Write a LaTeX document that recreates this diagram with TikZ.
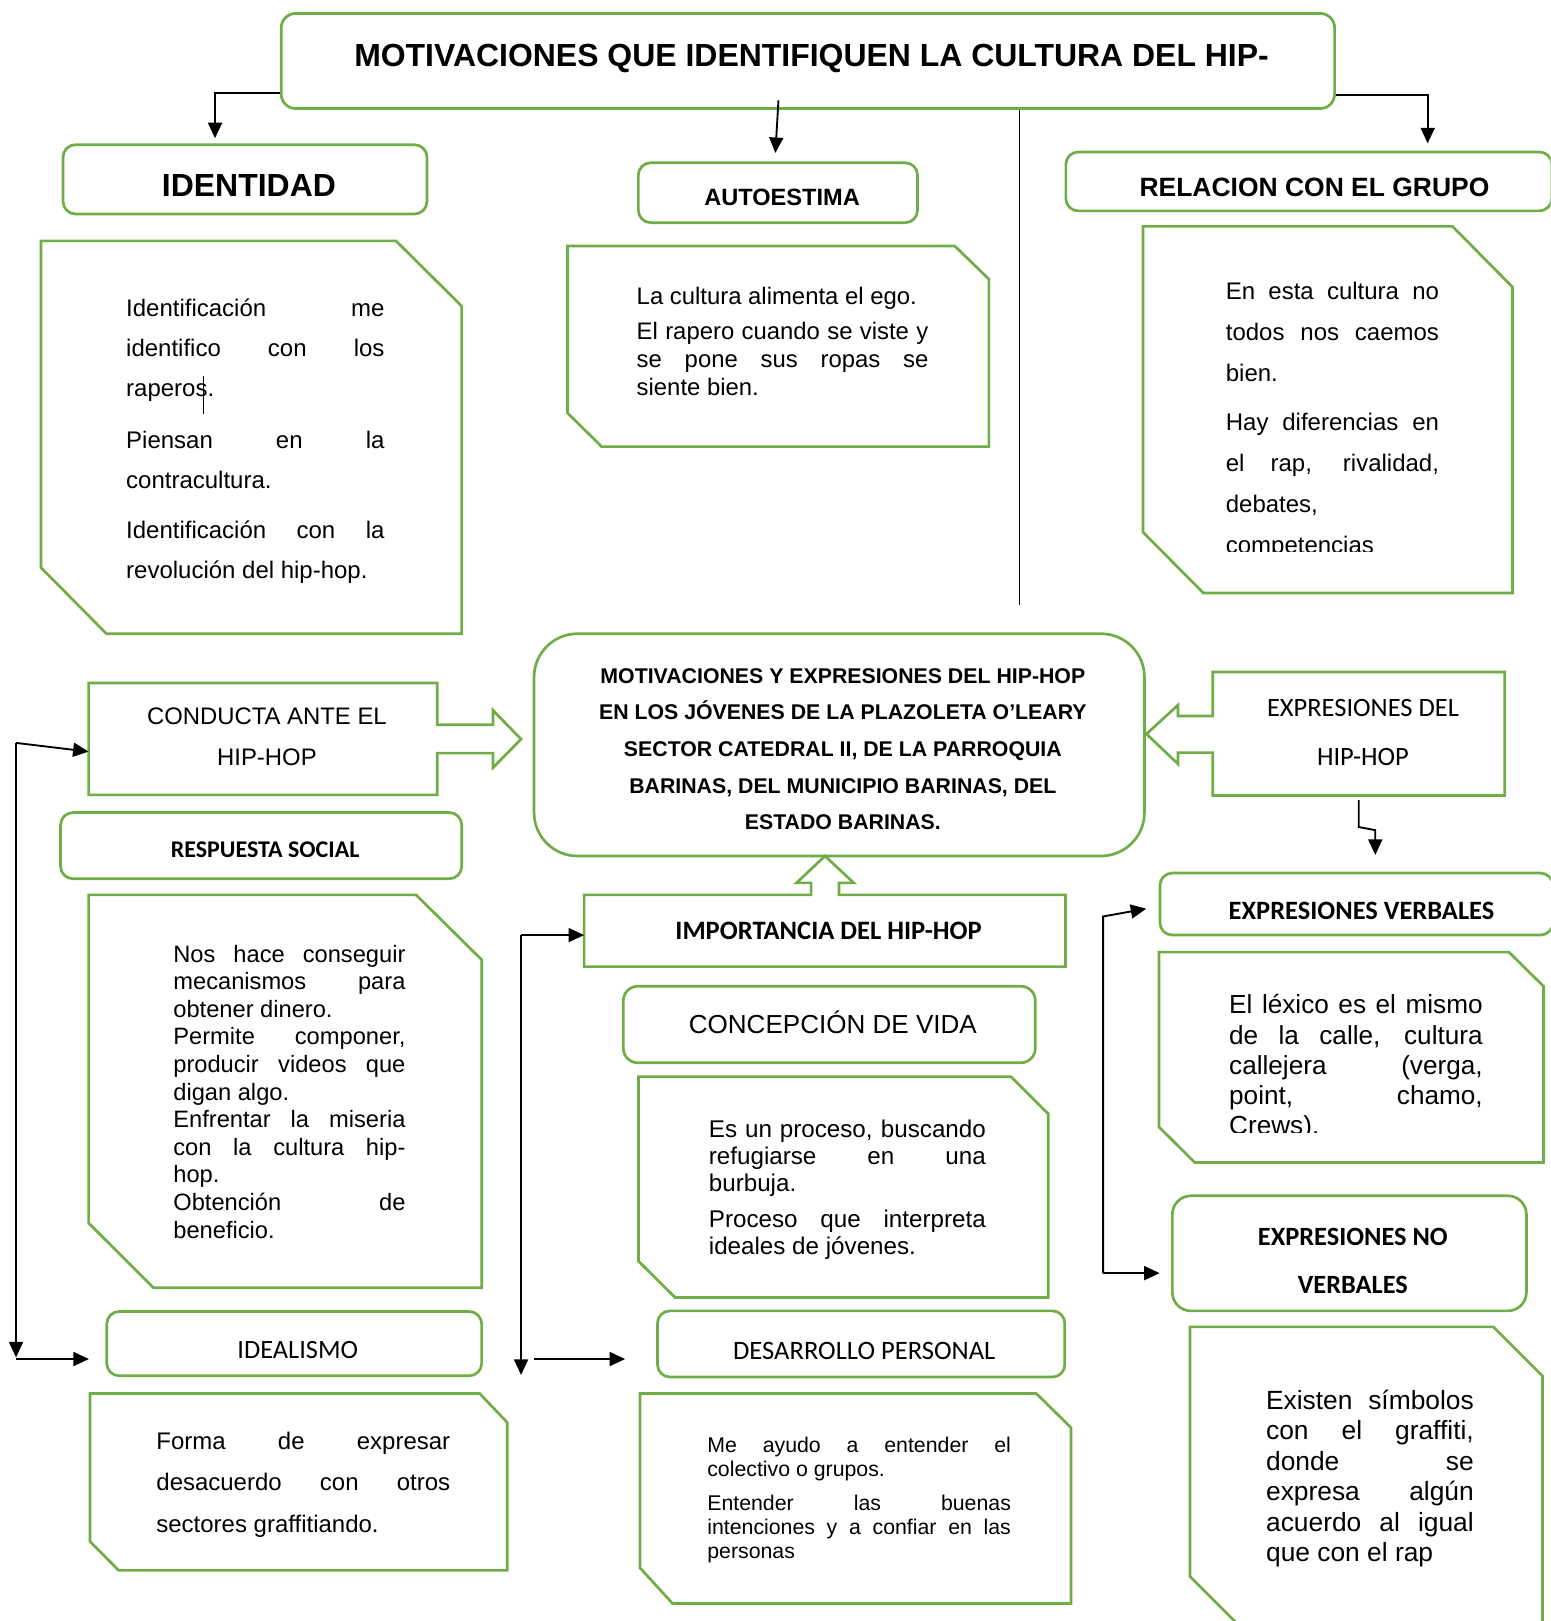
\documentclass[tikz,border=0pt]{standalone}
\usepackage{fontspec}
\setmainfont{Liberation Sans}[Ligatures=NoCommon]
\newfontfamily\calibri{Carlito}
\usetikzlibrary{arrows.meta}
\definecolor{grn}{RGB}{112,173,71}
\newcommand\mylines[2]{\vtop{\baselineskip=#1pt\lineskiplimit=-1000pt\lineskip=0pt\relax #2}}
\newcommand\jst[2]{\hbox to #1pt{#2}}
\newcommand\ctrl[2]{\hbox to #1pt{\hss #2\hss}}
\newcommand\fs[1]{\fontsize{#1}{#1}\selectfont}
\tikzset{
  lbox/.style={draw=grn, line width=2.6pt, rounded corners=12pt, inner sep=0pt},
  shp/.style={draw=grn, line width=2.6pt, line join=miter},
  holder/.style={inner sep=0pt, outer sep=0pt},
  conn/.style={draw=black, line width=1.8pt, -{Triangle[length=15pt,width=13.5pt]}},
  plain/.style={draw=black, line width=1.8pt},
  txt/.style={inner sep=0pt, anchor=base west},
  ctxt/.style={inner sep=0pt, anchor=base},
}
\begin{document}
\begin{tikzpicture}[x=1pt,y=-1pt]
\useasboundingbox (0,0) rectangle (1500,1568);
\fill[white] (0,0) rectangle (1500,1568);
\clip (0,0) rectangle (1500,1568);

% ---------- top level ----------
\node[lbox, rounded corners=14pt, minimum width=1019pt, minimum height=92pt] (title) at (781.5,59) {};
\node[ctxt, font=\bfseries\fs{30.9}] (titletxt) at (785,64.5) {MOTIVACIONES QUE IDENTIFIQUEN LA CULTURA DEL HIP-};

\node[lbox, minimum width=352pt, minimum height=67pt] (identidad) at (237,173.5) {};
\node[ctxt, font=\bfseries\fs{30.9}] (identidadtxt) at (240.8,190.2) {IDENTIDAD};

\node[lbox, minimum width=270pt, minimum height=58pt] (autoestima) at (752.5,186.4) {};
\node[ctxt, font=\bfseries\fs{22.8}] (autotxt) at (756.5,198.3) {AUTOESTIMA};

\node[lbox, minimum width=470pt, minimum height=57pt] (relacion) at (1266,175.5) {};
\node[ctxt, font=\bfseries\fs{25.6}] (reltxt) at (1271.5,190.2) {RELACION CON EL GRUPO};

% connectors from title
\coordinate (tl) at (208,90);
\draw[conn, shorten >=5pt] (title.west |- tl) -- (tl) -- (tl |- identidad.north);
\coordinate (ta) at (753,97);
\coordinate (tae) at (750,148);
\draw[conn] (ta) -- (tae);
\coordinate (tr) at (1381,92);
\draw[conn, shorten >=7pt] (title.east |- tr) -- (tr) -- (tr |- relacion.north);
\coordinate (vl) at (986,585);
\draw[line width=1pt] (title.south -| vl) -- (vl);

% ---------- content boxes (top row) ----------
\draw[shp] (39.6,233) -- (383,233) -- (446.5,296) -- (446.5,613) -- (103,613) -- (39.6,549) -- cycle;
\node[txt, font=\fs{23.2}] (identtext) at (121.9,306.2) {\mylines{38.8}{\jst{249.8}{Identificación me}\jst{249.8}{identifico con los}\hbox{raperos.}\vskip11pt\jst{249.8}{Piensan en la}\hbox{contracultura.}\vskip9.5pt\jst{249.8}{Identificación con la}\hbox{revolución del hip-hop.}}};
\draw[line width=1pt] (196.7,364) -- (196.7,400.7);

\draw[shp] (549,238) -- (923.6,238) -- (956.5,270) -- (956.5,432) -- (582,432) -- (549,399.5) -- cycle;
\node[txt, font=\fs{23.1}] (autotext) at (615.7,295) {\mylines{27.1}{\hbox{La cultura alimenta el ego.}\vskip6.7pt\jst{282.1}{El rapero cuando se viste y}\jst{282.1}{se pone sus ropas se}\hbox{siente bien.}}};

\draw[shp] (1105.6,219) -- (1405,219) -- (1463,277.6) -- (1463,573.6) -- (1164,573.6) -- (1105.6,514.7) -- cycle;
\begin{scope}
\clip (1100,200) rectangle (1470,533.5);
\node[txt, font=\fs{23.2}] (reltext) at (1185.6,289.5) {\mylines{39.7}{\jst{206.1}{En esta cultura no}\jst{206.1}{todos nos caemos}\hbox{bien.}\vskip7.8pt\jst{206.1}{Hay diferencias en}\jst{206.1}{el rap, rivalidad,}\hbox{debates,}\hbox{competencias}}};
\end{scope}

% ---------- central ----------
\node[lbox, rounded corners=42pt, minimum width=590.4pt, minimum height=215pt] (central) at (811.8,720.5) {};
\node[ctxt, font=\bfseries\fs{20.6}] (centraltxt) at (815.3,660.8) {\mylines{35.5}{\ctrl{560}{MOTIVACIONES Y EXPRESIONES DEL HIP-HOP}\ctrl{560}{EN LOS JÓVENES DE LA PLAZOLETA O’LEARY}\ctrl{560}{SECTOR CATEDRAL II, DE LA PARROQUIA}\ctrl{560}{BARINAS, DEL MUNICIPIO BARINAS, DEL}\ctrl{560}{ESTADO BARINAS.}}};

% CONDUCTA (right arrow callout)
\node[holder, minimum width=337.3pt, minimum height=108.3pt] (conducta) at (254.35,714.75) {};
\draw[shp] (conducta.north west) -- (conducta.north east) -- (423,701) -- (476.8,701) -- (476.8,687) -- (504,715) -- (476.8,742.7) -- (476.8,728.5) -- (423,728.5) -- (conducta.south east) -- (conducta.south west) -- cycle;
\node[ctxt, font=\fs{23.1}] (conductatxt) at (258.2,701) {\mylines{39.8}{\ctrl{300}{CONDUCTA ANTE EL}\ctrl{300}{HIP-HOP}}};

% EXPRESIONES DEL HIP-HOP (left arrow callout)
\node[holder, minimum width=282.6pt, minimum height=119.5pt] (exprdel) at (1314.3,709.75) {};
\draw[shp] (exprdel.north west) -- (exprdel.north east) -- (exprdel.south east) -- (exprdel.south west) -- (1173,728) -- (1139.5,728) -- (1139.5,739) -- (1109,710) -- (1139.5,682) -- (1139.5,692.5) -- (1173,692.5) -- cycle;
\node[ctxt, font=\calibri\fs{25.6}] (exprdeltxt) at (1318.4,693) {\mylines{47.5}{\ctrl{260}{EXPRESIONES DEL}\ctrl{260}{HIP-HOP}}};
\draw[conn] ([yshift=-4.5pt]exprdel.south) -- ++(0,26) -- ++(16,3) -- ++(0,24);

% IMPORTANCIA (up arrow callout)
\node[holder, minimum width=465.7pt, minimum height=69.4pt] (importancia) at (797.85,900.3) {};
\draw[shp] (importancia.north west) -- (784.6,865.6) -- (784.6,854) -- (770.5,854) -- (798,828) -- (825.8,854) -- (811.5,854) -- (811.5,865.6) -- (importancia.north east) -- (importancia.south east) -- (importancia.south west) -- cycle;
\node[ctxt, font=\calibri\bfseries\fs{25.7}] (imptxt) at (801.5,908.4) {IMPORTANCIA DEL HIP-HOP};

% ---------- left column ----------
\node[lbox, minimum width=388pt, minimum height=64pt] (respuesta) at (252.6,818) {};
\node[ctxt, font=\calibri\bfseries\fs{23.2}] (resptxt) at (256.5,829) {RESPUESTA SOCIAL};

\draw[shp] (85.7,865.6) -- (402.4,865.6) -- (466,928.4) -- (466,1245.6) -- (148.5,1245.6) -- (85.7,1183) -- cycle;
\node[txt, font=\fs{22.9}] (resptext) at (167.5,930.7) {\mylines{26.7}{\jst{224.5}{Nos hace conseguir}\jst{224.5}{mecanismos para}\hbox{obtener dinero.}\jst{224.5}{Permite componer,}\jst{224.5}{producir videos que}\hbox{digan algo.}\jst{224.5}{Enfrentar la miseria}\jst{224.5}{con la cultura hip-}\hbox{hop.}\jst{224.5}{Obtención de}\hbox{beneficio.}}};

\node[lbox, minimum width=362.6pt, minimum height=62.2pt] (idealismo) at (284.6,1299.7) {};
\node[ctxt, font=\calibri\fs{25.5}] (idealtxt) at (288,1313.6) {IDEALISMO};

\draw[shp] (87,1348) -- (464,1348) -- (490.7,1376) -- (490.7,1519) -- (114.8,1519) -- (87,1491) -- cycle;
\node[txt, font=\fs{23.2}] (idealtext) at (151.1,1402) {\mylines{40.2}{\jst{284.2}{Forma de expresar}\jst{284.2}{desacuerdo con otros}\hbox{sectores graffitiando.}}};

\coordinate (lt) at (15.5,718.6);
\coordinate (lb) at (15.5,1313);
\coordinate (lh) at (15.5,1314.6);
\draw[conn] (lt) -- ([yshift=-12.3pt]conducta.west);
\draw[conn] (lt) -- (lb);
\draw[conn, shorten >=16pt] (lh) -- (lh -| idealismo.west);

% ---------- middle column ----------
\node[lbox, rounded corners=14pt, minimum width=398.5pt, minimum height=74pt] (concepcion) at (802.2,991) {};
\node[ctxt, font=\fs{25.2}] (conctxt) at (805.6,1000) {CONCEPCIÓN DE VIDA};

\draw[shp] (617.7,1041.6) -- (978,1041.6) -- (1014,1077.5) -- (1014,1255) -- (653,1255) -- (617.7,1220) -- cycle;
\node[txt, font=\fs{23.4}] (conctext) at (685.5,1100) {\mylines{26.3}{\jst{267.9}{Es un proceso, buscando}\jst{267.9}{refugiarse en una}\hbox{burbuja.}\vskip8.2pt\jst{267.9}{Proceso que interpreta}\hbox{ideales de jóvenes.}}};

\node[lbox, minimum width=394pt, minimum height=64pt] (desarrollo) at (833,1300) {};
\node[ctxt, font=\calibri\fs{25.7}] (destxt) at (836,1315.3) {DESARROLLO PERSONAL};

\draw[shp] (619,1348) -- (1002.5,1348) -- (1036,1381) -- (1036,1551) -- (650.5,1551) -- (619,1516.5) -- cycle;
\node[txt, font=\fs{20.6}] (destext) at (684,1404.9) {\mylines{23.3}{\jst{293.7}{Me ayudo a entender el}\hbox{colectivo o grupos.}\vskip9.7pt\jst{293.7}{Entender las buenas}\jst{293.7}{intenciones y a confiar en las}\hbox{personas}}};

\coordinate (mt) at (504,904.5);
\coordinate (mb) at (504,1330);
\coordinate (mh) at (516.6,1314.6);
\draw[conn] (mt) -- (mt -| importancia.west);
\draw[conn] (mt) -- (mb);
\draw[conn, shorten >=30pt] (mh) -- (mh -| desarrollo.west);

% ---------- right column ----------
\node[lbox, minimum width=380pt, minimum height=60pt] (ev) at (1312,874.5) {};
\node[ctxt, font=\calibri\bfseries\fs{25.6}] (evtxt) at (1317,889) {EXPRESIONES VERBALES};

\draw[shp] (1121,921) -- (1459.6,921) -- (1493,954) -- (1493,1124.5) -- (1155.7,1124.5) -- (1121,1090) -- cycle;
\begin{scope}
\clip (1115,915) rectangle (1500,1095.5);
\node[txt, font=\fs{25.3}] (evtext) at (1188.8,980.7) {\mylines{29.25}{\jst{245.2}{El léxico es el mismo}\jst{245.2}{de la calle, cultura}\jst{245.2}{callejera (verga,}\jst{245.2}{point, chamo,}\hbox{Crews).}}};
\end{scope}

\node[lbox, rounded corners=18pt, minimum width=342.5pt, minimum height=111.3pt] (nv) at (1305.25,1212.35) {};
\node[ctxt, font=\calibri\bfseries\fs{25.5}] (nvtxt) at (1308.6,1205) {\mylines{45.8}{\ctrl{300}{EXPRESIONES NO}\ctrl{300}{VERBALES}}};

\draw[shp] (1151,1283.5) -- (1444.5,1283.5) -- (1492,1331) -- (1492,1610) -- (1236,1610) -- (1151,1524.8) -- cycle;
\node[txt, font=\fs{25.5}] (nvtext) at (1224.5,1363) {\mylines{29.5}{\jst{200.9}{Existen símbolos}\jst{200.9}{con el graffiti,}\jst{200.9}{donde se}\jst{200.9}{expresa algún}\jst{200.9}{acuerdo al igual}\hbox{que con el rap}}};

\coordinate (rt) at (1067,886.5);
\coordinate (rb) at (1067,1231.5);
\coordinate (rte) at (1108.8,879);
\draw[conn] (rb) -- (rt) -- (rte);
\draw[conn, shorten >=11pt] (rb) -- (rb -| nv.west);
\end{tikzpicture}
\end{document}
